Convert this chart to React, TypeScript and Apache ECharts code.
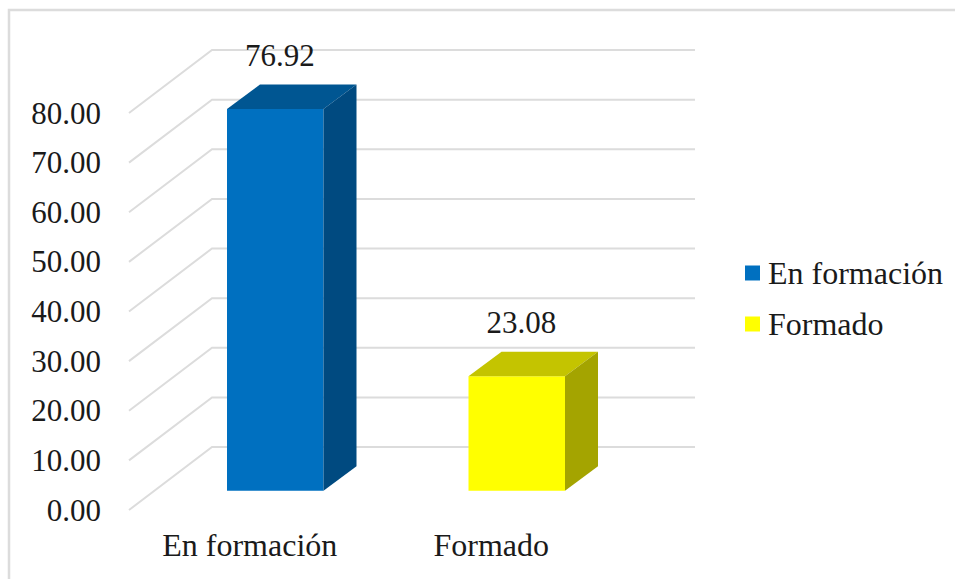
import React, { useEffect, useRef } from "react";
import * as echarts from "echarts";

const categories = ["En formación", "Formado"];
const values = [76.92, 23.08];
const yTicks = [0, 10, 20, 30, 40, 50, 60, 70, 80];
const faceColors = ["#0070c0", "#ffff00"];
const topColors = ["#005692", "#c4c400"];
const sideColors = ["#004a80", "#a4a400"];

const FONT = '"Liberation Serif", serif';
const TEXT = "#1a1a1a";
const FS = 31;
const FS_WIDE = 32;
const WALL_DX = 83;
const WALL_DY = 63;
const BAR_DX = 25.5;
const BAR_DY = 19.3;
const DEPTH_DX = 33;
const DEPTH_DY = 24.5;
const BAR_W = 96.5;

function gridRender(params: any, api: any) {
  const y = api.coord([0, api.value(1)])[1];
  const cs = params.coordSys;
  return {
    type: "polyline",
    silent: true,
    shape: {
      points: [
        [cs.x, y],
        [cs.x + WALL_DX, y - WALL_DY],
        [cs.x + cs.width + WALL_DX, y - WALL_DY],
      ],
    },
    style: { fill: "none", stroke: "#dcdcdc", lineWidth: 2 },
  };
}

function barRender(params: any, api: any) {
  const idx = api.value(0);
  const v = api.value(1);
  const top = api.coord([idx, v]);
  const base = api.coord([idx, 0]);
  const l = top[0] + BAR_DX - BAR_W / 2;
  const r = l + BAR_W;
  const t = top[1] - BAR_DY;
  const b = base[1] - BAR_DY;
  return {
    type: "group",
    children: [
      {
        type: "polygon",
        shape: { points: [[l, b], [r, b], [r, t], [l, t]] },
        style: { fill: faceColors[idx] },
      },
      {
        type: "polygon",
        shape: { points: [[l, t], [r, t], [r + DEPTH_DX, t - DEPTH_DY], [l + DEPTH_DX, t - DEPTH_DY]] },
        style: { fill: topColors[idx] },
      },
      {
        type: "polygon",
        shape: { points: [[r, b], [r + DEPTH_DX, b - DEPTH_DY], [r + DEPTH_DX, t - DEPTH_DY], [r, t]] },
        style: { fill: sideColors[idx] },
      },
      {
        type: "text",
        style: {
          x: (l + r) / 2 + 4.5,
          y: t - DEPTH_DY - 29,
          text: v.toFixed(2),
          font: `${FS}px ${FONT}`,
          fill: TEXT,
          align: "center",
          verticalAlign: "middle",
        },
      },
    ],
  };
}

export default function App() {
  const ref = useRef<HTMLDivElement>(null);
  useEffect(() => {
    const chart = echarts.init(ref.current!, null, { renderer: "svg" });
    chart.setOption({
      animation: false,
      backgroundColor: "#ffffff",
      grid: { left: 129, top: 113, width: 483, height: 397 },
      xAxis: {
        type: "category",
        data: categories,
        axisLine: { show: false },
        axisTick: { show: false },
        axisLabel: { fontFamily: FONT, fontSize: FS_WIDE, color: TEXT, margin: 19 },
      },
      yAxis: {
        type: "value",
        min: 0,
        max: 80,
        interval: 10,
        splitLine: { show: false },
        axisLine: { show: false },
        axisTick: { show: false },
        axisLabel: {
          fontFamily: FONT,
          fontSize: FS,
          color: TEXT,
          margin: 28,
          padding: [0, 0, 3, 0],
          formatter: (v: number) => v.toFixed(2),
        },
      },
      legend: {
        orient: "vertical",
        left: 745,
        top: 257,
        padding: 0,
        itemWidth: 15,
        itemHeight: 15,
        itemGap: 19,
        icon: "rect",
        data: categories,
        textStyle: { fontFamily: FONT, fontSize: FS_WIDE, color: TEXT, padding: [0, 0, 0, 3] },
      },
      graphic: [
        {
          type: "rect",
          silent: true,
          z: -10,
          shape: { x: 9, y: 10, width: 960, height: 590 },
          style: { fill: "none", stroke: "#dcdcdc", lineWidth: 2.5 },
        },
      ],
      series: [
        {
          type: "custom",
          name: "grid",
          z: 1,
          renderItem: gridRender,
          encode: { x: 0, y: 1 },
          data: yTicks.map((t) => [0, t]),
        },
        ...categories.map((c, i) => ({
          type: "custom",
          name: c,
          z: 2,
          renderItem: barRender,
          encode: { x: 0, y: 1 },
          itemStyle: { color: faceColors[i] },
          data: [[i, values[i]]],
        })),
      ],
    });
    return () => chart.dispose();
  }, []);
  return <div ref={ref} style={{ position: "fixed", left: 0, top: 0, width: 955, height: 579 }} />;
}
